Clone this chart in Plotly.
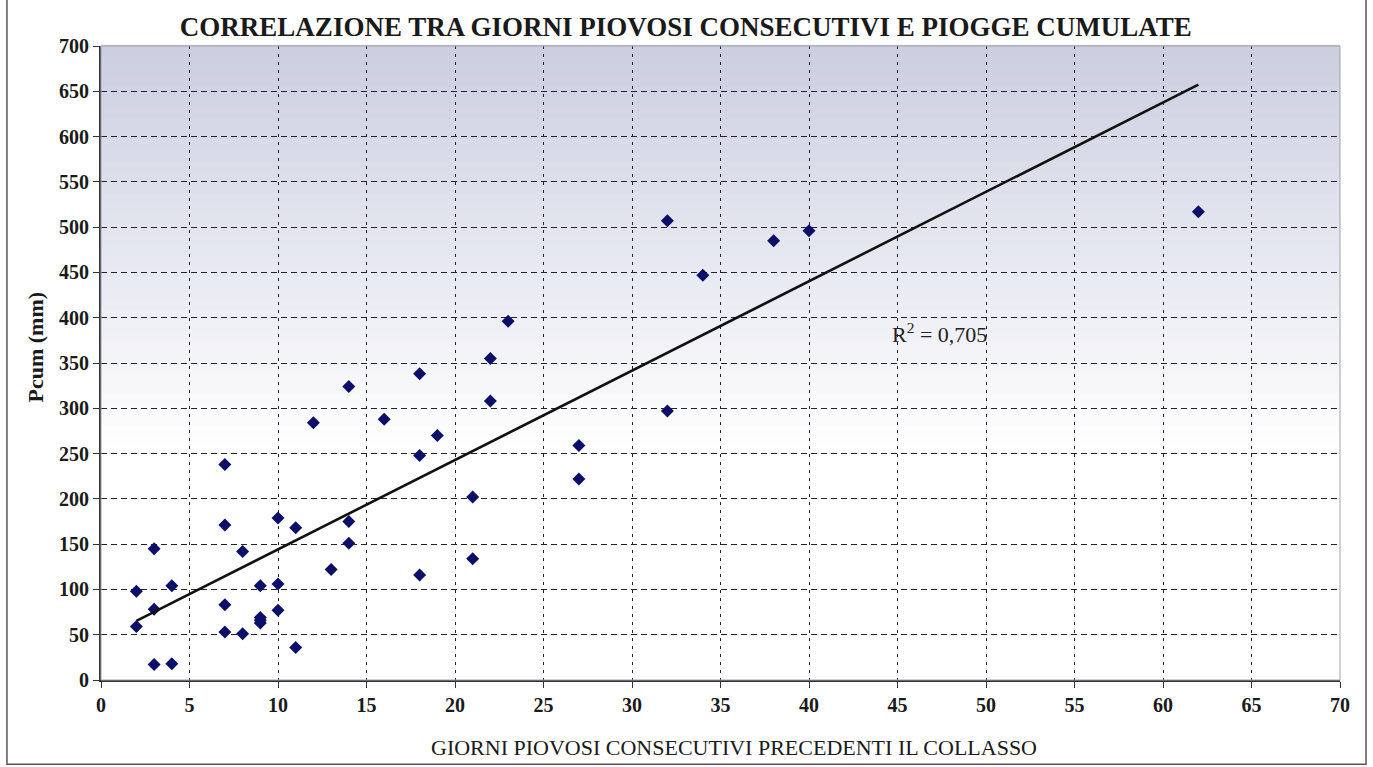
import plotly.graph_objects as go

# Consecutive rainy days before collapse vs cumulative rainfall (mm)
giorni = [2, 2, 3, 3, 3, 4, 4, 7, 7, 7, 7, 8, 8, 9, 9, 9, 9, 10, 10, 10,
          11, 11, 12, 13, 14, 14, 14, 16, 18, 18, 18, 19, 21, 21, 22, 22,
          23, 27, 27, 32, 32, 34, 38, 40, 62]
pcum = [98, 59, 145, 78, 17, 104, 18, 238, 171, 83, 53, 142, 51, 104, 69, 66, 63, 179, 106, 77,
        168, 36, 284, 122, 324, 175, 151, 288, 338, 248, 116, 270, 202, 134, 355, 308,
        396, 259, 222, 297, 507, 447, 485, 496, 517]

# Linear trend line (Excel-style) and its coefficient of determination
trend_x = [2, 62]
trend_slope = 9.87
trend_intercept = 45.5
r2_text = "R<sup>2</sup> = 0,705"

x_ticks = list(range(0, 71, 5))
y_ticks = list(range(0, 701, 50))

SERIF = "Liberation Serif"

fig = go.Figure()

fig.add_trace(go.Scatter(
    x=giorni, y=pcum, mode="markers",
    marker=dict(symbol="diamond", size=10, color="#0c0f68"),
    showlegend=False, hoverinfo="x+y",
))

fig.add_trace(go.Scatter(
    x=trend_x, y=[trend_intercept + trend_slope * v for v in trend_x],
    mode="lines", line=dict(color="#111111", width=2.6),
    showlegend=False, hoverinfo="skip",
))

# Vertical gradient behind the plot area: grey-blue at the top fading to white
shapes = []
n_bands = 60
top_rgb = (203, 206, 224)
for i in range(n_bands):
    y0 = 1 - (i + 1) / n_bands
    y1 = 1 - i / n_bands
    t = min(1.0, (i + 0.5) / (n_bands * 0.64))
    r, g, b = [int(round(c + (255 - c) * t)) for c in top_rgb]
    shapes.append(dict(type="rect", xref="x domain", yref="y domain",
                       x0=0, x1=1, y0=y0, y1=y1 + 0.002,
                       fillcolor=f"rgb({r},{g},{b})", line=dict(width=0),
                       layer="below"))
# Thin frame around the plot area (right/top edges)
shapes.append(dict(type="rect", xref="x domain", yref="y domain", x0=0, x1=1, y0=0, y1=1,
                   line=dict(color="#a0a0ac", width=1), layer="above"))
# Outer chart border
shapes.append(dict(type="rect", xref="paper", yref="paper",
                   x0=-0.0759, x1=1.021, y0=-0.133, y1=1.2,
                   line=dict(color="#555555", width=1.5), layer="above"))
fig.update_layout(shapes=shapes)

fig.add_annotation(
    x=47.4, y=383, xref="x", yref="y", text=r2_text, showarrow=False,
    font=dict(family=SERIF, size=22, color="#222222"),
)

# Axis titles placed as annotations, centred on the whole chart frame
fig.add_annotation(
    x=-0.053, y=0.525, xref="paper", yref="paper", text="<b>Pcum (mm)</b>",
    textangle=-90, showarrow=False, xanchor="center", yanchor="middle",
    font=dict(family=SERIF, size=22, color="#1a1a1a"),
)
fig.add_annotation(
    x=0.511, y=-0.106, xref="paper", yref="paper",
    text="GIORNI PIOVOSI CONSECUTIVI PRECEDENTI IL COLLASSO",
    showarrow=False, xanchor="center", yanchor="middle",
    font=dict(family=SERIF, size=22, color="#1a1a1a"),
)

fig.update_layout(
    width=1373, height=767,
    margin=dict(l=101, r=33, t=46, b=87),
    paper_bgcolor="white",
    plot_bgcolor="rgba(0,0,0,0)",
    title=dict(
        text="<b>CORRELAZIONE TRA GIORNI PIOVOSI CONSECUTIVI E PIOGGE CUMULATE</b>",
        x=0.472, xref="paper", xanchor="center", y=0.966, yanchor="middle",
        font=dict(family=SERIF, size=27, color="#1a1a1a"),
    ),
    font=dict(family=SERIF, color="#1a1a1a"),
)

grid_common = dict(
    showgrid=True, gridcolor="#23232f", gridwidth=1.3,
    showline=True, linecolor="#333333", linewidth=2,
    ticks="outside", ticklen=6, tickcolor="#333333",
    tickfont=dict(family=SERIF, size=20, color="#1a1a1a", weight="bold"),
    zeroline=False,
)

fig.update_xaxes(
    range=[0, 70], tickvals=x_ticks, ticktext=[str(v) for v in x_ticks],
    griddash="3px,5px", **grid_common,
)
fig.update_yaxes(
    range=[0, 700], tickvals=y_ticks, ticktext=[str(v) for v in y_ticks],
    griddash="6px,4px", **grid_common,
)

fig.write_html("out.html")
